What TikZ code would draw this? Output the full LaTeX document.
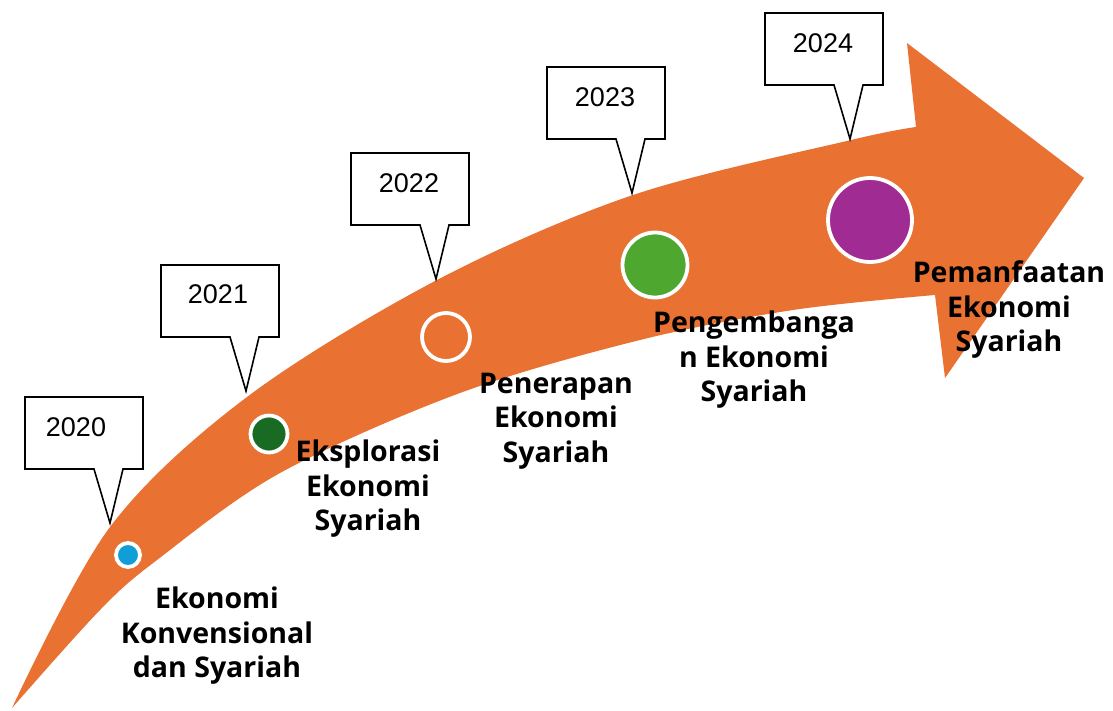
\documentclass[tikz,border=0pt]{standalone}
\usepackage{fontspec}
\setmainfont{Liberation Sans}
\newfontfamily\lblfont{Open Sans}
\definecolor{arroworange}{HTML}{E97132}
\definecolor{dotblue}{HTML}{0F9ED5}
\definecolor{dotdarkgreen}{HTML}{196B24}
\definecolor{dotgreen}{HTML}{4EA72E}
\definecolor{dotpurple}{HTML}{A02B93}
\newcommand\yearcallout[2]{% left x, top y
  \draw[yearbox] (#1,#2) -- ++(118,0) -- ++(0,72) -- ++(-20,0) -- ++(-13,54) -- ++(-16,-54) -- ++(-69,0) -- cycle;
}
\begin{document}
\begin{tikzpicture}[x=1pt,y=-1pt,
  yearbox/.style={draw=black, line width=1.6pt, fill=white, line join=miter},
  yeartext/.style={font=\fontsize{27}{32}\selectfont, inner sep=0pt},
  lbl/.style={font=\lblfont\bfseries\fontsize{28.5}{34.5}\selectfont, align=center, inner sep=0pt},
  dot/.style={circle, draw=white, line width=3.8pt, inner sep=0pt}]
\useasboundingbox (0,0) rectangle (1113,710);
% curved arrow
\fill[arroworange] (12,708)
  -- plot[smooth, tension=0.55] coordinates {(12,708) (110,527) (247,397) (437,280) (633,195) (851,140) (916,127)}
  -- (907,43) -- (1084,178) -- (945,378) -- (935,295)
  -- plot[smooth, tension=0.55] coordinates {(935,295) (793,310) (640,340) (460,393) (280,473) (157,560) (100,610) (12,708)}
  -- cycle;
% milestones
\node[dot, fill=dotblue, minimum size=24pt] (d2020) at (128,555) {};
\node[dot, fill=dotdarkgreen, minimum size=37pt] (d2021) at (269,434) {};
\node[dot, fill=arroworange, minimum size=48pt] (d2022) at (446,337) {};
\node[dot, fill=dotgreen, minimum size=65pt] (d2023) at (655,265) {};
\node[dot, fill=dotpurple, minimum size=84pt] (d2024) at (870,220) {};
% labels
\node[lbl] (l2020) at (217,636) {Ekonomi\\Konvensional\\dan Syariah};
\node[lbl] (l2021) at (368,489) {Eksplorasi\\Ekonomi\\Syariah};
\node[lbl] (l2022) at (556,421) {Penerapan\\Ekonomi\\Syariah};
\node[lbl] (l2023) at (754,360) {Pengembanga\\n Ekonomi\\Syariah};
\node[lbl] (l2024) at (1009,310) {Pemanfaatan\\Ekonomi\\Syariah};
% year callouts
\yearcallout{25}{397}
\yearcallout{161}{265}
\yearcallout{351}{153}
\yearcallout{547}{67}
\yearcallout{765}{13}
\node[yeartext] (y2020) at (76,427) {2020};
\node[yeartext] (y2021) at (218,294) {2021};
\node[yeartext] (y2022) at (409,183) {2022};
\node[yeartext] (y2023) at (605,97) {2023};
\node[yeartext] (y2024) at (823,43) {2024};
\end{tikzpicture}
\end{document}
